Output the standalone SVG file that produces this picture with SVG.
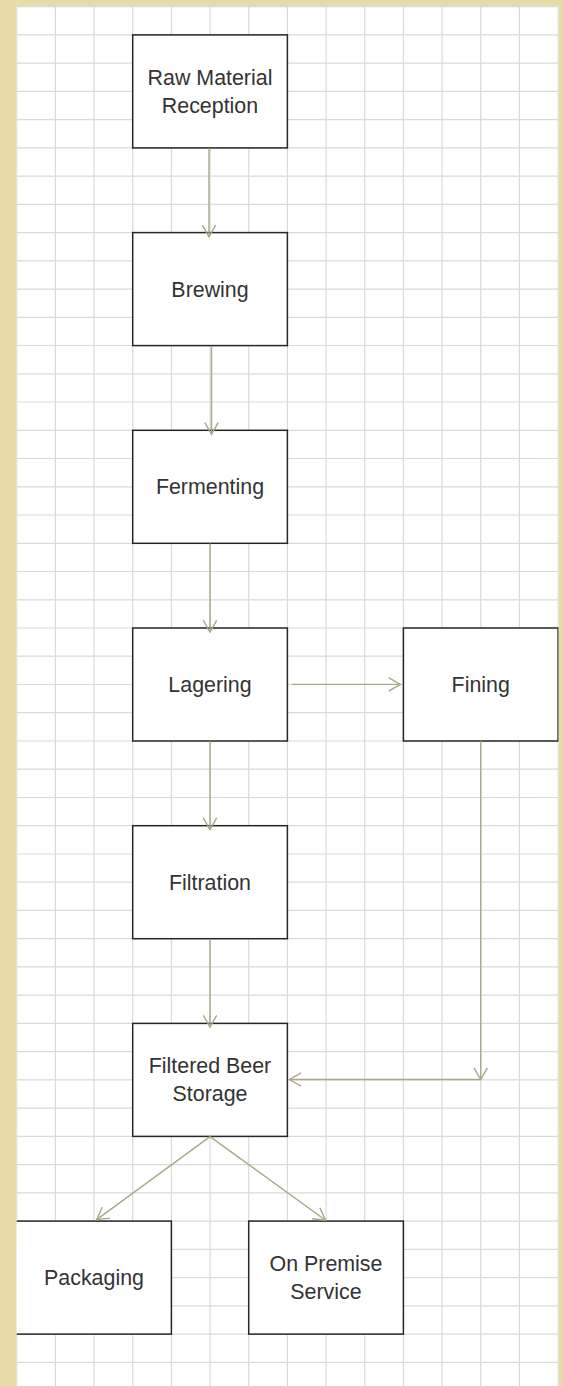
<svg xmlns="http://www.w3.org/2000/svg" width="563" height="1386" viewBox="0 0 563 1386">
  <style>
    .frame { fill: #e6dcaa; }
    .sheet { fill: #ffffff; }
    .grid { stroke: #dadada; stroke-width: 1.2; fill: none; }
    .box { fill: #ffffff; stroke: #262626; stroke-width: 1.5; }
    .label { font-family: "Liberation Sans", Arial, sans-serif; font-size: 21.4px; fill: #333333; text-anchor: middle; }
    .flow { stroke: #aba788; stroke-width: 1.4; fill: none; marker-end: url(#tip); }
  </style>
  <defs>
    <marker id="tip" markerUnits="userSpaceOnUse" viewBox="-13 -8 15 16" markerWidth="15" markerHeight="16" refX="0" refY="0" orient="auto" overflow="visible">
      <path d="M-11.7,-6.7 L0,0 L-11.7,6.7" fill="none" stroke="#aba788" stroke-width="1.4"/>
    </marker>
    <clipPath id="sheetClip">
      <rect x="16.7" y="6.1" width="541.8" height="1380"/>
    </clipPath>
  </defs>

  <!-- tan frame and white drawing sheet -->
  <rect class="frame" x="0" y="0" width="563" height="1386"/>
  <rect class="sheet" x="16.7" y="6.1" width="541.8" height="1380"/>

  <g clip-path="url(#sheetClip)">
    <!-- background grid -->
    <g id="grid" class="grid">
      <path d="M16.7 0V1386M55.4 0V1386M94.0 0V1386M132.7 0V1386M171.4 0V1386M210.1 0V1386M248.7 0V1386M287.4 0V1386M326.1 0V1386M364.7 0V1386M403.4 0V1386M442.1 0V1386M480.7 0V1386M519.4 0V1386M558.1 0V1386"/>
      <path d="M0 6.6H563M0 34.9H563M0 63.1H563M0 91.3H563M0 119.6H563M0 147.8H563M0 176.1H563M0 204.3H563M0 232.6H563M0 260.8H563M0 289.1H563M0 317.3H563M0 345.5H563M0 373.8H563M0 402.0H563M0 430.3H563M0 458.5H563M0 486.8H563M0 515.0H563M0 543.3H563M0 571.5H563M0 599.8H563M0 628.0H563M0 656.2H563M0 684.5H563M0 712.7H563M0 741.0H563M0 769.2H563M0 797.5H563M0 825.7H563M0 854.0H563M0 882.2H563M0 910.4H563M0 938.7H563M0 966.9H563M0 995.2H563M0 1023.4H563M0 1051.7H563M0 1079.9H563M0 1108.2H563M0 1136.4H563M0 1164.7H563M0 1192.9H563M0 1221.1H563M0 1249.4H563M0 1277.6H563M0 1305.9H563M0 1334.1H563M0 1362.4H563"/>
    </g>

    <!-- process steps -->
    <g id="node-raw-material">
      <rect class="box" x="132.7" y="34.9" width="154.7" height="113"/>
      <text class="label" x="210" y="85">Raw Material</text>
      <text class="label" x="210" y="113">Reception</text>
    </g>
    <g id="node-brewing">
      <rect class="box" x="132.7" y="232.6" width="154.7" height="113"/>
      <text class="label" x="210" y="296.6">Brewing</text>
    </g>
    <g id="node-fermenting">
      <rect class="box" x="132.7" y="430.3" width="154.7" height="113"/>
      <text class="label" x="210" y="494.3">Fermenting</text>
    </g>
    <g id="node-lagering">
      <rect class="box" x="132.7" y="628.0" width="154.7" height="113"/>
      <text class="label" x="210" y="692">Lagering</text>
    </g>
    <g id="node-fining">
      <rect class="box" x="403.4" y="628.0" width="154.7" height="113"/>
      <text class="label" x="480.7" y="692">Fining</text>
    </g>
    <g id="node-filtration">
      <rect class="box" x="132.7" y="825.7" width="154.7" height="113"/>
      <text class="label" x="210" y="889.7">Filtration</text>
    </g>
    <g id="node-filtered-beer-storage">
      <rect class="box" x="132.7" y="1023.4" width="154.7" height="113"/>
      <text class="label" x="210" y="1073.4">Filtered Beer</text>
      <text class="label" x="210" y="1101.4">Storage</text>
    </g>
    <g id="node-packaging">
      <rect class="box" x="14.5" y="1221.1" width="156.9" height="113"/>
      <text class="label" x="94" y="1285.1">Packaging</text>
    </g>
    <g id="node-on-premise-service">
      <rect class="box" x="248.7" y="1221.1" width="154.7" height="113"/>
      <text class="label" x="326" y="1271.1">On Premise</text>
      <text class="label" x="326" y="1299.1">Service</text>
    </g>

    <!-- process flow -->
    <g id="connectors">
      <path class="flow" d="M209 148.3V236.8"/>
      <path class="flow" d="M211.5 346V434.3"/>
      <path class="flow" d="M210 543.6V632"/>
      <path class="flow" d="M210 741.3V829.5"/>
      <path class="flow" d="M210 939V1027"/>
      <path class="flow" d="M291.7 684.4H400.3"/>
      <path class="flow" d="M480.7 741.3V1079.5"/>
      <path class="flow" d="M480.7 1079.5H289.5"/>
      <path class="flow" d="M210 1136.6L96.7 1219.6"/>
      <path class="flow" d="M210 1136.6L325.5 1220.2"/>
    </g>
  </g>
</svg>
